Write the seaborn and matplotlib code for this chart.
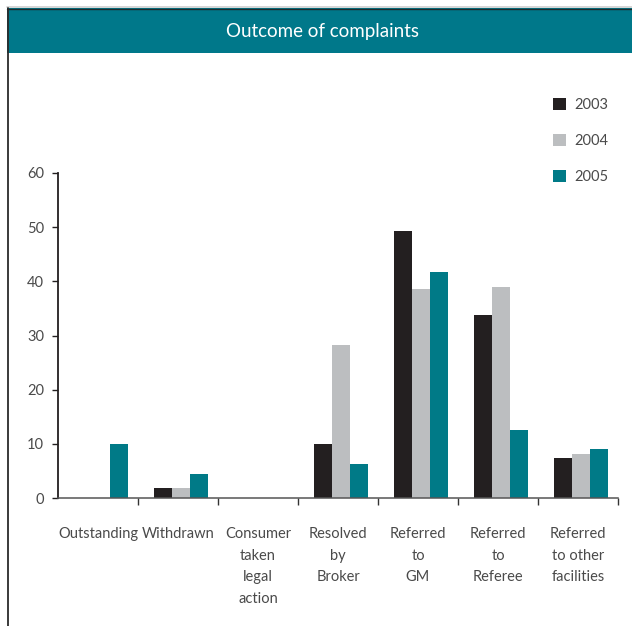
import numpy as np
import pandas as pd
import matplotlib
matplotlib.use("Agg")
import matplotlib.pyplot as plt
from matplotlib.patches import Rectangle
from matplotlib.lines import Line2D
import seaborn as sns

# Outcome categories (x axis) and complaint percentages per year
categories = [
    "Outstanding",
    "Withdrawn",
    "Consumer\ntaken\nlegal\naction",
    "Resolved\nby\nBroker",
    "Referred\nto\nGM",
    "Referred\nto\nReferee",
    "Referred\nto other\nfacilities",
]
years = ["2003", "2004", "2005"]
values_2003 = [0, 1.9, 0, 10.0, 49.2, 33.7, 7.3]
values_2004 = [0, 1.9, 0, 28.3, 38.5, 39.0, 8.2]
values_2005 = [10.0, 4.4, 0, 6.2, 41.8, 12.6, 9.1]
y_ticks = [0, 10, 20, 30, 40, 50, 60]

colors = {"2003": "#231F20", "2004": "#BCBEC0", "2005": "#007A87"}
TEAL = "#00788A"
TEXT = "#4a4a4a"

df = pd.DataFrame({
    "category": categories * 3,
    "year": [y for y in years for _ in categories],
    "value": values_2003 + values_2004 + values_2005,
})

sns.set_theme(style="white")
plt.rcParams["font.family"] = ["Lato", "DejaVu Sans"]

W, H = 632, 626
fig = plt.figure(figsize=(W / 100, H / 100), dpi=100)

# Header band with title
fig.patches.append(Rectangle((7 / W, 1 - 53 / H), 1 - 7 / W, 45 / H,
                             transform=fig.transFigure, facecolor=TEAL,
                             edgecolor="none", zorder=0))
fig.lines.append(Line2D([7 / W, 1], [1 - 7 / H, 1 - 7 / H], transform=fig.transFigure,
                        color="#d0d0d0", lw=1.2))
fig.lines.append(Line2D([7 / W, 1], [1 - 8.8 / H, 1 - 8.8 / H], transform=fig.transFigure,
                        color="#1f2a2c", lw=1.0))
fig.lines.append(Line2D([7.5 / W, 7.5 / W], [0, 1 - 8 / H], transform=fig.transFigure,
                        color="#2b2b2b", lw=1.3))
fig.text(323 / W, 1 - 31 / H, "Outcome of complaints", color="white",
         ha="center", va="center", fontsize=13.5)

ax = fig.add_axes([58 / W, 1 - 498 / H, 560 / W, 325 / H])
sns.barplot(data=df, x="category", y="value", hue="year", palette=colors,
            width=0.675, gap=0, saturation=1, linewidth=0, errorbar=None, ax=ax)

ax.set_xlim(-0.54, 6.46)
ax.set_ylim(0, 60)
ax.set_xlabel("")
ax.set_ylabel("")

# Category labels centred in each cell, boundary ticks between cells
ax.set_xticks(np.arange(len(categories)) - 0.04)
ax.set_xticklabels(categories, fontsize=10.5, color=TEXT, linespacing=1.68, va="top")
ax.set_xticks(np.arange(1, len(categories) + 1) - 0.54, minor=True)
ax.tick_params(axis="x", which="major", length=0, pad=21)
ax.tick_params(axis="x", which="minor", bottom=True, length=5, width=1.0,
               color="#333333", direction="out")

ax.set_yticks(y_ticks)
ax.set_yticklabels([str(v) for v in y_ticks], fontsize=10.5, color=TEXT)
ax.tick_params(axis="y", left=True, length=4, width=1.0, color="#231F20", pad=6)

for s in ["top", "right"]:
    ax.spines[s].set_visible(False)
ax.spines["left"].set_color("#231F20")
ax.spines["left"].set_linewidth(1.3)
ax.spines["bottom"].set_color("#555555")
ax.spines["bottom"].set_linewidth(1.1)

handles, labels = ax.get_legend_handles_labels()
ax.legend_.remove()
fig.legend(handles, labels, loc="upper left",
           bbox_to_anchor=(553 / W, 1 - 98 / H), bbox_transform=fig.transFigure,
           frameon=False, fontsize=10.5, labelcolor=TEXT,
           handlelength=0.9, handleheight=0.9, handletextpad=0.55,
           labelspacing=1.5, borderpad=0, borderaxespad=0)

fig.savefig("out.png", dpi=100, facecolor="white")
